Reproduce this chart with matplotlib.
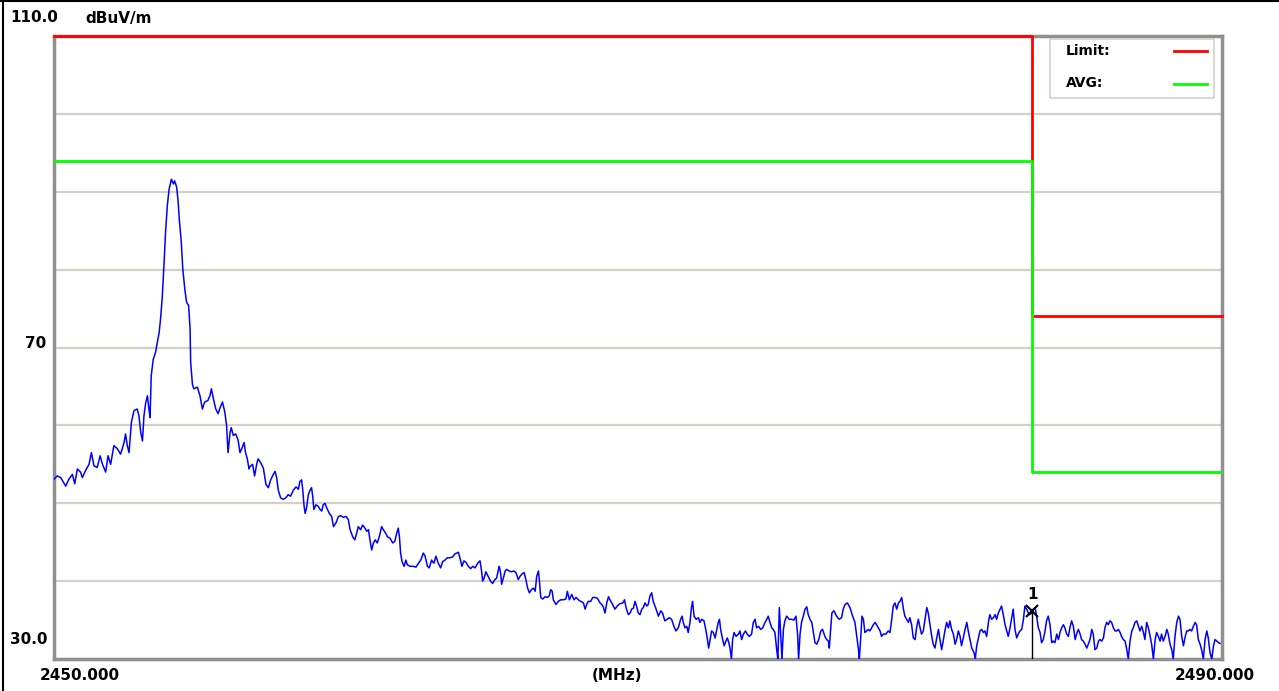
import matplotlib
matplotlib.use("Agg")
import matplotlib.pyplot as plt
from matplotlib.patches import Rectangle

# ---------------- data ----------------
freq_mhz = [
    2450.00, 2450.11, 2450.23, 2450.40, 2450.51, 2450.63, 2450.71, 2450.80, 2450.91, 2450.97,
    2451.08, 2451.20, 2451.28, 2451.37, 2451.48, 2451.58, 2451.66, 2451.77, 2451.85, 2451.94,
    2452.05, 2452.17, 2452.28, 2452.40, 2452.45, 2452.51, 2452.57, 2452.65, 2452.74, 2452.85,
    2452.91, 2452.97, 2453.03, 2453.08, 2453.14, 2453.20, 2453.25, 2453.29, 2453.33, 2453.40,
    2453.48, 2453.54, 2453.60, 2453.65, 2453.71, 2453.77, 2453.82, 2453.88, 2453.94, 2454.02,
    2454.09, 2454.13, 2454.20, 2454.25, 2454.29, 2454.36, 2454.41, 2454.48, 2454.54, 2454.61,
    2454.66, 2454.68, 2454.74, 2454.79, 2454.91, 2455.00, 2455.08, 2455.16, 2455.27, 2455.34,
    2455.39, 2455.46, 2455.54, 2455.62, 2455.69, 2455.77, 2455.85, 2455.91, 2455.96, 2456.03,
    2456.07, 2456.14, 2456.22, 2456.30, 2456.37, 2456.45, 2456.51, 2456.56, 2456.62, 2456.68,
    2456.71, 2456.80, 2456.87, 2456.94, 2456.99, 2457.08, 2457.17, 2457.26, 2457.34, 2457.42,
    2457.51, 2457.57, 2457.63, 2457.68, 2457.76, 2457.85, 2457.94, 2458.02, 2458.10, 2458.20,
    2458.29, 2458.37, 2458.42, 2458.48, 2458.52, 2458.56, 2458.60, 2458.65, 2458.71, 2458.77,
    2458.82, 2458.86, 2458.90, 2458.97, 2459.05, 2459.11, 2459.17, 2459.22, 2459.28, 2459.34,
    2459.43, 2459.51, 2459.57, 2459.66, 2459.74, 2459.82, 2459.91, 2460.00, 2460.08, 2460.14,
    2460.23, 2460.30, 2460.37, 2460.42, 2460.50, 2460.57, 2460.65, 2460.71, 2460.77, 2460.82,
    2460.88, 2460.94, 2461.00, 2461.07, 2461.14, 2461.22, 2461.28, 2461.35, 2461.42, 2461.51,
    2461.60, 2461.67, 2461.74, 2461.79, 2461.83, 2461.87, 2461.92, 2461.99, 2462.05, 2462.10,
    2462.19, 2462.31, 2462.40, 2462.48, 2462.56, 2462.65, 2462.71, 2462.79, 2462.85, 2462.93,
    2463.01, 2463.08, 2463.16, 2463.24, 2463.31, 2463.39, 2463.47,
    2463.56, 2463.65, 2463.73, 2463.85, 2463.90, 2463.97, 2464.04, 2464.11, 2464.19, 2464.27,
    2464.34, 2464.42, 2464.48, 2464.53, 2464.59, 2464.65, 2464.68, 2464.73, 2464.79, 2464.87,
    2464.95, 2465.02, 2465.10, 2465.16, 2465.22, 2465.25, 2465.30, 2465.33, 2465.39, 2465.45,
    2465.50, 2465.59, 2465.67, 2465.75, 2465.82, 2465.90, 2465.96, 2466.02, 2466.10, 2466.16,
    2466.22, 2466.28, 2466.35, 2466.42, 2466.48, 2466.53, 2466.59, 2466.62, 2466.67, 2466.74,
    2466.82, 2466.90, 2466.96, 2467.01, 2467.06, 2467.10, 2467.19, 2467.27, 2467.35, 2467.44,
    2467.53, 2467.58, 2467.65, 2467.73, 2467.81, 2467.88, 2467.96, 2468.04, 2468.13, 2468.19,
    2468.24, 2468.30, 2468.38, 2468.45, 2468.53, 2468.61, 2468.70, 2468.76, 2468.81, 2468.87,
    2468.93, 2468.99, 2469.04, 2469.13, 2469.21, 2469.29, 2469.38, 2469.48, 2469.54, 2469.59,
    2469.67, 2469.73, 2469.78, 2469.84, 2469.90, 2469.95, 2470.01, 2470.07, 2470.13, 2470.18,
    2470.24, 2470.30, 2470.35,
    2470.41, 2470.47, 2470.52, 2470.62, 2470.70, 2470.78, 2470.84, 2470.92, 2471.00, 2471.07,
    2471.15, 2471.23, 2471.30, 2471.38, 2471.46, 2471.51, 2471.55, 2471.61, 2471.67, 2471.72,
    2471.78, 2471.83, 2471.87, 2471.92, 2471.99, 2472.07, 2472.12, 2472.18, 2472.26, 2472.33,
    2472.37, 2472.42, 2472.47, 2472.52, 2472.58, 2472.64, 2472.69, 2472.75, 2472.79, 2472.83,
    2472.90, 2472.95, 2473.01, 2473.06, 2473.11, 2473.15, 2473.20, 2473.24, 2473.29, 2473.36,
    2473.44, 2473.49, 2473.55, 2473.61, 2473.68, 2473.74, 2473.81, 2473.89, 2473.95, 2474.01,
    2474.06, 2474.13, 2474.20, 2474.27, 2474.35, 2474.41, 2474.46, 2474.52, 2474.58, 2474.63,
    2474.69, 2474.75, 2474.79, 2474.84, 2474.89, 2474.93, 2474.98, 2475.03, 2475.09, 2475.18,
    2475.26, 2475.34, 2475.41, 2475.47, 2475.50, 2475.55, 2475.60, 2475.66, 2475.72, 2475.78,
    2475.83, 2475.89, 2475.95, 2476.00, 2476.06, 2476.12, 2476.19, 2476.26, 2476.32, 2476.40,
    2476.46, 2476.52, 2476.55, 2476.60, 2476.64, 2476.71, 2476.80, 2476.89, 2476.97, 2477.03,
    2477.09, 2477.17,
    2477.26, 2477.35, 2477.43, 2477.49, 2477.55, 2477.58, 2477.63, 2477.67, 2477.72, 2477.77,
    2477.83, 2477.89, 2477.94, 2478.00, 2478.06, 2478.12, 2478.17, 2478.23, 2478.29, 2478.34,
    2478.40, 2478.49, 2478.57, 2478.63, 2478.69, 2478.74, 2478.80, 2478.86, 2478.92, 2478.97,
    2479.03, 2479.09, 2479.14, 2479.20, 2479.26, 2479.31, 2479.37, 2479.43, 2479.49, 2479.54,
    2479.60, 2479.66, 2479.71, 2479.77, 2479.83, 2479.89, 2479.94, 2480.00, 2480.06, 2480.11,
    2480.17, 2480.23, 2480.29, 2480.34, 2480.40, 2480.46, 2480.51, 2480.57, 2480.63, 2480.68,
    2480.74, 2480.80, 2480.86, 2480.91, 2480.97, 2481.03, 2481.08, 2481.14, 2481.20, 2481.26,
    2481.31, 2481.37, 2481.43, 2481.51, 2481.55, 2481.60, 2481.66, 2481.71, 2481.77, 2481.83,
    2481.88, 2481.94, 2482.00, 2482.05, 2482.11, 2482.17, 2482.23, 2482.28, 2482.34, 2482.40,
    2482.45, 2482.51, 2482.57, 2482.63, 2482.68, 2482.74, 2482.80, 2482.85, 2482.91, 2482.97,
    2483.02, 2483.08, 2483.14, 2483.20, 2483.25, 2483.31, 2483.37, 2483.42,
    2483.48, 2483.54, 2483.60, 2483.65, 2483.71, 2483.77, 2483.82, 2483.88, 2483.94, 2483.99,
    2484.05, 2484.11, 2484.17, 2484.22, 2484.28, 2484.34, 2484.40, 2484.45, 2484.51, 2484.57,
    2484.62, 2484.68, 2484.74, 2484.79, 2484.85, 2484.91, 2484.97, 2485.02, 2485.08, 2485.14,
    2485.19, 2485.25, 2485.31, 2485.37, 2485.42, 2485.48, 2485.54, 2485.59, 2485.65, 2485.71,
    2485.77, 2485.82, 2485.88, 2485.94, 2485.99, 2486.05, 2486.11, 2486.16, 2486.22, 2486.28,
    2486.34, 2486.39, 2486.45, 2486.51, 2486.56, 2486.62, 2486.68, 2486.74, 2486.79, 2486.85,
    2486.91, 2486.96, 2487.02, 2487.08, 2487.14, 2487.19, 2487.25, 2487.31, 2487.36, 2487.42,
    2487.48, 2487.54, 2487.59, 2487.65, 2487.71, 2487.76, 2487.82, 2487.88, 2487.93, 2487.99,
    2488.05, 2488.11, 2488.16, 2488.22, 2488.28, 2488.33, 2488.39, 2488.45, 2488.51, 2488.56,
    2488.62, 2488.68, 2488.73, 2488.79, 2488.85, 2488.90, 2488.96, 2489.02, 2489.08, 2489.13,
    2489.19, 2489.25, 2489.30, 2489.36, 2489.42, 2489.48, 2489.53, 2489.59, 2489.65, 2489.71,
    2489.76, 2489.82, 2489.88, 2489.93,
]

level_dbuv = [
    53.1, 53.5, 53.3, 52.2, 53.1, 53.7, 52.5, 54.4, 54.0, 53.3,
    54.2, 55.0, 56.5, 54.8, 54.6, 56.1, 55.0, 54.0, 56.1, 55.0,
    57.4, 57.0, 56.3, 57.8, 58.9, 57.4, 56.5, 60.4, 61.9, 62.1,
    61.2, 59.1, 58.0, 61.2, 62.9, 63.8, 62.1, 61.0, 66.4, 68.5,
    69.4, 70.7, 71.9, 73.7, 76.6, 80.9, 84.8, 88.2, 90.3, 91.6,
    91.0, 91.4, 90.6, 88.8, 86.5, 83.5, 80.1, 77.5, 75.8, 75.4,
    72.4, 68.1, 65.3, 64.7, 64.9, 63.8, 62.1, 63.0, 63.2, 63.8,
    64.7, 63.4, 62.1, 61.5, 62.3, 63.0, 61.7, 60.0, 56.5, 59.1,
    59.7, 58.7, 58.9, 58.2, 56.5, 57.2, 57.8, 56.5, 55.7, 54.4,
    54.7, 55.0, 53.5, 55.0, 55.7, 55.2, 54.5, 52.4, 52.0, 53.0,
    53.7, 54.1, 53.2, 51.7, 50.7, 50.5, 50.7, 51.1, 50.9, 51.7,
    52.1, 51.8, 52.8, 53.0, 51.7, 49.8, 48.7, 49.4, 51.1, 51.7,
    52.0, 50.9, 49.2, 49.8, 49.6, 49.2, 49.0, 49.8, 50.0, 49.4,
    48.7, 48.3, 47.0, 47.5, 48.3, 48.4, 48.2, 48.3, 47.9, 46.6,
    45.7, 45.3, 46.2, 47.0, 46.6, 47.2, 46.8, 46.4, 46.6, 45.3,
    44.0, 44.9, 45.3, 44.9, 45.7, 47.0, 46.6, 46.2, 45.7, 45.5,
    44.9, 45.1, 46.2, 46.8, 45.7, 43.6, 42.5, 41.9, 42.7, 42.1,
    41.9, 41.9, 41.8, 42.3, 42.7, 43.6, 43.2, 41.9, 41.7, 42.7,
    42.3, 43.2, 42.3, 41.7, 42.5, 42.7, 43.0,
    43.0, 43.1, 43.5, 43.7, 43.0, 41.9, 42.6, 42.4, 41.9, 41.6,
    41.9, 41.7, 42.1, 42.4, 42.6, 41.1, 40.0, 40.4, 41.2, 40.6,
    40.0, 39.7, 40.2, 40.4, 41.5, 41.9, 40.9, 39.6, 40.4, 41.3,
    41.5, 41.3, 41.2, 41.3, 41.1, 40.2, 40.6, 40.9, 41.1, 40.2,
    39.1, 38.5, 38.9, 39.1, 38.7, 40.6, 41.3, 40.2, 37.9, 37.7,
    38.0, 37.9, 38.1, 38.9, 38.7, 37.6, 37.0, 37.4, 37.6, 37.6,
    37.7, 38.7, 37.6, 38.3, 37.6, 37.9, 37.6, 37.4, 37.2, 36.4,
    37.0, 37.4, 37.4, 37.9, 37.9, 37.8, 37.2, 37.0, 36.7, 35.9,
    37.2, 38.0, 37.6, 37.0, 36.4, 36.8, 37.1, 37.2, 37.6, 36.6,
    35.7, 35.9, 36.4, 36.5, 37.4, 36.8, 35.9, 35.7, 36.4, 36.6,
    37.2, 36.8, 37.0,
    38.1, 38.5, 37.4, 36.4, 35.5, 36.2, 35.9, 34.9, 35.1, 35.3,
    35.1, 34.2, 33.6, 34.0, 35.1, 35.5, 34.7, 34.0, 34.2, 33.4,
    34.7, 36.6, 37.4, 35.5, 35.1, 35.3, 34.7, 35.1, 34.9, 33.6,
    32.7, 31.4, 32.5, 33.6, 33.4, 32.7, 33.6, 34.7, 35.1, 33.8,
    32.5, 31.7, 32.3, 32.7, 32.1, 31.4, 30.0, 32.5, 33.4, 32.9,
    33.2, 33.6, 32.5, 33.2, 33.6, 33.2, 32.9, 33.2, 34.7, 35.1,
    34.0, 34.2, 33.8, 34.0, 34.7, 35.1, 35.5, 34.7, 34.0, 33.8,
    33.4, 31.2, 30.0, 36.6, 32.9, 30.0, 33.8, 34.9, 35.5, 35.1,
    35.1, 35.0, 35.5, 32.9, 30.0, 33.2, 34.7, 35.5, 36.4, 36.7,
    35.7, 35.1, 34.7, 33.6, 32.1, 31.9, 32.5, 33.6, 33.8, 32.9,
    32.5, 32.3, 31.4, 33.8, 35.9, 36.2, 35.5, 35.1, 35.3, 36.4,
    37.0, 37.2,
    36.6, 35.5, 34.7, 32.9, 31.2, 30.0, 32.9, 35.5, 35.1, 33.4,
    33.6, 33.8, 33.6, 34.0, 34.4, 34.7, 34.4, 34.0, 33.6, 32.9,
    33.2, 33.2, 33.6, 33.4, 35.1, 36.8, 37.2, 36.4, 37.2, 37.4,
    37.9, 36.4, 35.5, 35.1, 34.7, 35.3, 34.4, 32.7, 32.5, 34.0,
    35.1, 34.0, 33.2, 33.6, 35.1, 36.6, 35.9, 34.4, 32.9, 31.9,
    31.4, 32.7, 33.8, 32.5, 31.2, 32.5, 33.6, 34.7, 34.0, 34.9,
    33.8, 33.2, 31.9, 32.5, 33.6, 32.9, 31.7, 32.7, 33.8, 34.7,
    33.6, 32.5, 31.4, 30.8, 30.0, 31.7, 32.7, 33.6, 33.8, 33.4,
    33.6, 32.9, 34.7, 35.7, 35.1, 35.3, 35.7, 35.1, 35.9, 36.4,
    36.8, 35.7, 34.4, 33.6, 32.9, 34.0, 35.3, 36.4, 33.8, 32.7,
    33.2, 33.6, 33.8, 35.1, 36.8, 36.4, 35.9, 35.7,
    35.9, 36.4, 36.6, 35.5, 34.0, 33.4, 32.1, 32.5, 33.6, 34.9,
    35.5, 34.4, 32.1, 32.3, 32.1, 33.2, 32.5, 33.4, 34.0, 34.4,
    34.0, 33.2, 32.9, 34.0, 34.9, 34.2, 32.5, 33.2, 33.8, 33.2,
    32.5, 32.3, 31.9, 31.4, 31.9, 32.5, 33.8, 33.2, 31.2, 31.4,
    32.3, 32.5, 32.3, 32.7, 34.0, 34.7, 34.4, 34.9, 34.7, 34.0,
    33.6, 33.6, 33.8, 33.4, 32.9, 32.5, 32.3, 31.2, 30.0, 32.3,
    33.6, 34.0, 34.7, 34.9, 34.2, 33.6, 34.2, 33.4, 32.5, 34.7,
    34.0, 32.9, 31.9, 30.0, 32.5, 33.4, 32.9, 32.3, 33.2, 32.3,
    32.9, 33.8, 33.2, 31.9, 31.2, 30.0, 32.9, 34.7, 35.5, 35.1,
    32.9, 31.7, 32.7, 33.6, 33.6, 33.8, 33.6, 34.2, 34.7, 34.4,
    32.5, 31.9, 31.2, 30.0, 32.5, 33.6, 32.7, 30.8, 30.0, 31.7,
    32.5, 32.3, 32.1, 32.0,
]

limit_freq = [2450.0, 2483.5, 2483.5, 2490.0]
limit_peak = [110.0, 110.0, 74.0, 74.0]
limit_avg = [94.0, 94.0, 54.0, 54.0]

marker_freq = 2483.5
marker_level = 36.1
marker_label = "1"

x_min, x_max = 2450.0, 2490.0
y_min, y_max = 30.0, 110.0
grid_levels = [40, 50, 60, 70, 80, 90, 100]

# ---------------- figure ----------------
W, H = 1279, 691
fig = plt.figure(figsize=(W / 100, H / 100), dpi=100)
fig.patch.set_facecolor("white")

L, R, T, B = 54, 1222, 36, 659
ax = fig.add_axes([L / W, 1 - B / H, (R - L) / W, (B - T) / H])
ax.set_xlim(x_min, x_max)
ax.set_ylim(y_min, y_max)
ax.set_xticks([])
ax.set_yticks([])

for g in grid_levels:
    ax.axhline(g, color="#d4d0c8", lw=1.6, zorder=1)

for side in ["left", "bottom", "right", "top"]:
    ax.spines[side].set_color("#909090")
    ax.spines[side].set_linewidth(2.5)
    ax.spines[side].set_zorder(2)

ax.plot(freq_mhz, level_dbuv, color="#0000ff", lw=1.1, zorder=3)

ax.plot(limit_freq, limit_peak, color="#ff0000", lw=2.0, zorder=4, clip_on=False)
ax.plot(limit_freq, limit_avg, color="#00ff00", lw=2.0, zorder=5)

# marker
ax.plot([marker_freq, marker_freq], [y_min, marker_level], color="black", lw=1.0, zorder=6)
ax.plot([marker_freq], [marker_level], marker="x", color="black", ms=8, mew=1.5, zorder=7)
ax.annotate(marker_label, (marker_freq, marker_level), xytext=(0, 7), textcoords="offset points",
            ha="center", va="bottom", fontsize=11, fontweight="bold", color="black")

# legend box
lx0, ly0, lx1, ly1 = 1050, 39, 1214, 98
fig.patches.append(Rectangle((lx0 / W, 1 - ly1 / H), (lx1 - lx0) / W, (ly1 - ly0) / H,
                             transform=fig.transFigure, facecolor="white",
                             edgecolor="#d4d0c8", lw=1.2, zorder=10))
fig.text(1066 / W, 1 - 51 / H, "Limit:", fontsize=10, fontweight="bold", va="center", zorder=11)
fig.text(1066 / W, 1 - 83 / H, "AVG:", fontsize=10, fontweight="bold", va="center", zorder=11)
fig.lines.append(plt.Line2D([1174 / W, 1207 / W], [1 - 51 / H, 1 - 51 / H], transform=fig.transFigure,
                            color="#ff0000", lw=2, zorder=11))
fig.lines.append(plt.Line2D([1174 / W, 1207 / W], [1 - 84 / H, 1 - 84 / H], transform=fig.transFigure,
                            color="#00ff00", lw=2, zorder=11))

# axis texts
tk = dict(fontsize=11, fontweight="bold", color="black")
fig.text(10 / W, 1 - 18 / H, "110.0", va="center", ha="left", **tk)
fig.text(85 / W, 1 - 18 / H, "dBuV/m", va="center", ha="left", **tk)
fig.text(46 / W, 1 - 343 / H, "70", va="center", ha="right", **tk)
fig.text(10 / W, 1 - 640 / H, "30.0", va="center", ha="left", **tk)
fig.text(40 / W, 1 - 675 / H, "2450.000", va="center", ha="left", **tk)
fig.text(617 / W, 1 - 675 / H, "(MHz)", va="center", ha="center", **tk)
fig.text(1255 / W, 1 - 675 / H, "2490.000", va="center", ha="right", **tk)

# outer border (top and left only, as in the reference)
fig.lines.append(plt.Line2D([2.5 / W, 2.5 / W], [0, 1], transform=fig.transFigure,
                            color="black", lw=1.5, zorder=20))
fig.lines.append(plt.Line2D([0, 1], [1 - 0.8 / H, 1 - 0.8 / H], transform=fig.transFigure,
                            color="black", lw=1.5, zorder=20))

fig.savefig("out.png", dpi=100, facecolor="white")
